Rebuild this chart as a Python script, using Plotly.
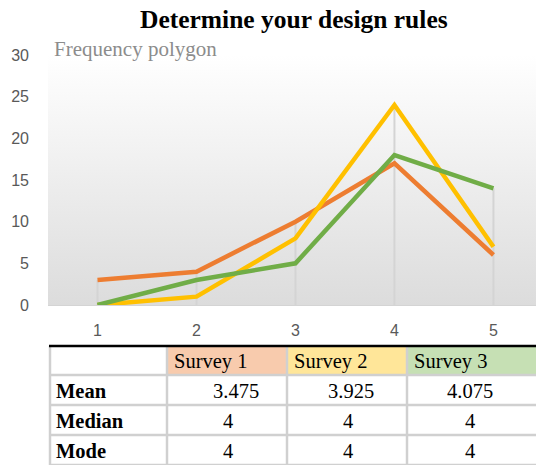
import plotly.graph_objects as go

categories = [1, 2, 3, 4, 5]
survey1 = [3, 4, 10, 17, 6]
survey2 = [0, 1, 8, 24, 7]
survey3 = [0, 3, 5, 18, 14]
series_names = ["Survey 1", "Survey 2", "Survey 3"]
series_colors = ["#ED7D31", "#FFC000", "#70AD47"]
header_fills = ["#F8CBAD", "#FFE699", "#C6E0B4"]
y_ticks = [0, 5, 10, 15, 20, 25, 30]

row_labels = ["Mean", "Median", "Mode"]
stats1 = ["3.475", "4", "4"]
stats2 = ["3.925", "4", "4"]
stats3 = ["4.075", "4", "4"]

W, H = 536, 465
serif = "Liberation Serif, Times New Roman, serif"
sans = "Liberation Sans, Arial, sans-serif"


def py(p):
    return 1 - p / H


def px(p):
    return p / W


fig = go.Figure()

# gradient plot background
fig.add_trace(go.Scatter(
    x=[0.5, 5.5, 5.5, 0.5, 0.5], y=[0, 0, 30, 30, 0], mode="none",
    fill="toself", fillgradient=dict(type="vertical",
                                     colorscale=[[0, "#DCDCDC"], [1, "#FFFFFF"]]),
    hoverinfo="skip", showlegend=False))

# drop lines from axis to highest point
all_series = [survey1, survey2, survey3]
dx, dy = [], []
for i, c in enumerate(categories):
    top = max(s[i] for s in all_series)
    dx += [c, c, None]
    dy += [0, top, None]
fig.add_trace(go.Scatter(x=dx, y=dy, mode="lines",
                         line=dict(color="#D4D4D4", width=2),
                         hoverinfo="skip", showlegend=False))

for name, vals, col in zip(series_names, all_series, series_colors):
    fig.add_trace(go.Scatter(x=categories, y=vals, mode="lines", name=name,
                             line=dict(color=col, width=4.5), showlegend=False))

# table drawn with shapes + annotations
col_edges = [50, 167, 287, 407, 540]
row_edges = [346, 375, 405, 435, 465]
col_centers = [228, 348, 470]
mean_shift = [8, 3, 0]
grid = "#D0D0D0"
for j, fc in enumerate(header_fills):
    fig.add_shape(type="rect", xref="paper", yref="paper",
                  x0=px(col_edges[j + 1] + 1), x1=px(col_edges[j + 2] - 1),
                  y0=py(row_edges[0]), y1=py(row_edges[1] - 1),
                  fillcolor=fc, line=dict(width=0), layer="below")
for xe in col_edges:
    fig.add_shape(type="line", xref="paper", yref="paper",
                  x0=px(xe), x1=px(xe), y0=py(row_edges[0]), y1=0,
                  line=dict(color=grid, width=2.5))
for ye in row_edges[1:]:
    fig.add_shape(type="line", xref="paper", yref="paper",
                  x0=px(col_edges[0]), x1=1, y0=py(ye), y1=py(ye),
                  line=dict(color=grid, width=2.5))
fig.add_shape(type="line", xref="paper", yref="paper",
              x0=px(col_edges[0] - 1), x1=1, y0=py(346), y1=py(346),
              line=dict(color="black", width=2.5))

tfont = dict(family=serif, size=20.5, color="black")
for j, name in enumerate(series_names):
    fig.add_annotation(text=name, xref="paper", yref="paper",
                       x=px(col_edges[j + 1] + 5), y=py((row_edges[0] + row_edges[1]) / 2 + 1),
                       xanchor="left", yanchor="middle", showarrow=False, font=tfont)
cols = [stats1, stats2, stats3]
for i, lab in enumerate(row_labels):
    yc = py((row_edges[i + 1] + row_edges[i + 2]) / 2 + 1)
    fig.add_annotation(text="<b>%s</b>" % lab, xref="paper", yref="paper",
                       x=px(col_edges[0] + 4), y=yc, xanchor="left", yanchor="middle",
                       showarrow=False, font=tfont)
    for j, colvals in enumerate(cols):
        xc = col_centers[j] + (mean_shift[j] if i == 0 else 0)
        fig.add_annotation(text=colvals[i], xref="paper", yref="paper",
                           x=px(xc), y=yc, xanchor="center", yanchor="middle",
                           showarrow=False, font=tfont)

fig.add_annotation(text="<b>Determine your design rules</b>", xref="paper", yref="paper",
                   x=px(294), y=py(20), xanchor="center", yanchor="middle",
                   showarrow=False, font=dict(family=serif, size=25.5, color="black"))
fig.add_annotation(text="Frequency polygon", xref="paper", yref="paper",
                   x=px(52), y=py(49), xanchor="left", yanchor="middle",
                   showarrow=False, font=dict(family=serif, size=21, color="#8C8C8C"))

fig.update_layout(
    width=W, height=H, margin=dict(l=0, r=0, t=0, b=0, autoexpand=False),
    paper_bgcolor="white", plot_bgcolor="rgba(0,0,0,0)",
    xaxis=dict(domain=[px(48), 1], range=[0.5, 5.43], tickvals=categories,
               showgrid=False, zeroline=False, showline=False,
               ticks="", ticklabelstandoff=14,
               tickfont=dict(family=sans, size=16, color="#595959"), fixedrange=True),
    yaxis=dict(domain=[py(305), py(55)], range=[0, 30], tickvals=y_ticks,
               showgrid=False, zeroline=True, zerolinecolor="#D4D4D4", zerolinewidth=2,
               showline=False, ticks="", ticklabelstandoff=18,
               tickfont=dict(family=sans, size=16, color="#595959"), fixedrange=True),
)

fig.write_html("out.html", config={"displayModeBar": False},
               post_script="document.body.style.margin='0';document.body.style.overflow='hidden';")
